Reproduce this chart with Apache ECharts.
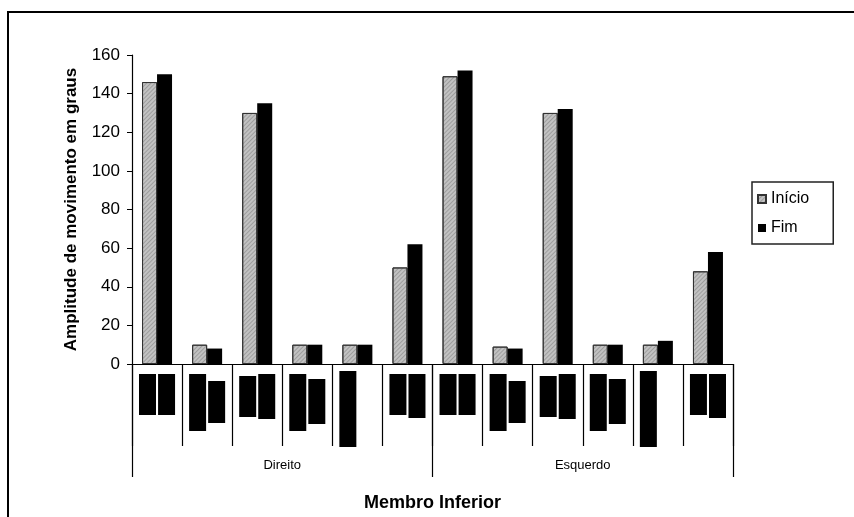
<!DOCTYPE html>
<html>
<head>
<meta charset="utf-8">
<script src="https://cdn.jsdelivr.net/npm/echarts@6/dist/echarts.min.js"></script>
<style>
  html, body { margin: 0; padding: 0; background: #fff; }
  #chart { width: 854px; height: 517px; }
</style>
</head>
<body>
<div id="chart"></div>
<script>
// 12 movimentos: 6 do lado direito, 6 do esquerdo
const categories = ["m1", "m2", "m3", "m4", "m5", "m6", "m7", "m8", "m9", "m10", "m11", "m12"];
const groups = ["Direito", "Esquerdo"];
const inicio = [146, 10, 130, 10, 10, 50, 149, 9, 130, 10, 10, 48];
const fim = [150, 8, 135, 10, 10, 62, 152, 8, 132, 10, 12, 58];
const yTicks = [0, 20, 40, 60, 80, 100, 120, 140, 160];

// rotulos das categorias (ilegiveis, aparecem como blocos pretos): inicio e fim de cada bloco
const rotuloIniA = [9, 9, 11, 9, 6, 9, 9, 9, 11, 9, 6, 9];
const rotuloFimA = [50, 66, 52, 66, 82, 50, 50, 66, 52, 66, 82, 50];
const rotuloIniB = [9, 16, 9, 14, 0, 9, 9, 16, 9, 14, 0, 9];
const rotuloFimB = [50, 58, 54, 59, 0, 53, 50, 58, 54, 59, 0, 53];

const font = "Liberation Sans";
const hatch = {
  symbol: "rect",
  symbolSize: 1,
  dashArrayX: [1, 0],
  dashArrayY: [1, 2],
  rotation: -Math.PI / 4,
  color: "rgba(90,90,90,0.35)",
};

const chart = echarts.init(document.getElementById("chart"));
chart.setOption({
  animation: false,
  textStyle: { fontFamily: font, color: "#000" },
  graphic: [
    {
      type: "rect",
      shape: { x: 8, y: 12, width: 870, height: 530 },
      style: { fill: "none", stroke: "#000", lineWidth: 2 },
      z: 0,
    },
  ],
  legend: {
    orient: "vertical",
    left: 752,
    top: 182,
    data: ["Início", "Fim"],
    icon: "rect",
    itemWidth: 8,
    itemHeight: 8,
    itemGap: 13,
    padding: [9, 24, 8, 5],
    borderColor: "#222",
    borderWidth: 1.5,
    borderRadius: 0,
    textStyle: { fontFamily: font, fontSize: 16, color: "#000" },
  },
  grid: [
    { left: 132, top: 55, width: 601, height: 310 },
    { left: 132, top: 365, width: 601, height: 82 },
  ],
  xAxis: [
    {
      type: "category",
      gridIndex: 0,
      data: categories,
      name: "Membro Inferior",
      nameLocation: "middle",
      nameGap: 130,
      nameTextStyle: { fontFamily: font, fontSize: 18, fontWeight: "bold", color: "#000" },
      axisLine: { show: true, lineStyle: { color: "#000", width: 1.2 } },
      axisTick: { show: true, interval: 0, length: 82, lineStyle: { color: "#000", width: 1.2 } },
      axisLabel: { show: false },
    },
    {
      type: "category",
      gridIndex: 0,
      position: "bottom",
      data: groups,
      axisLine: { show: false },
      axisTick: { show: true, interval: 0, length: 113, lineStyle: { color: "#000", width: 1.2 } },
      axisLabel: { margin: 95, fontFamily: font, fontSize: 13, color: "#000" },
    },
    {
      type: "category",
      gridIndex: 1,
      data: categories,
      show: false,
    },
  ],
  yAxis: [
    {
      type: "value",
      gridIndex: 0,
      min: 0,
      max: 160,
      interval: 20,
      name: "Amplitude de movimento em graus",
      nameLocation: "middle",
      nameGap: 52,
      nameTextStyle: { fontFamily: font, fontSize: 17, fontWeight: "bold", color: "#000" },
      axisLine: { show: true, lineStyle: { color: "#000", width: 1.2 } },
      axisTick: { show: true, length: 5, lineStyle: { color: "#000" } },
      splitLine: { show: false },
      axisLabel: {
        margin: 12,
        fontFamily: font,
        fontSize: 17,
        color: "#000",
        formatter: (v) => (yTicks.includes(v) ? String(v) : ""),
      },
    },
    {
      type: "value",
      gridIndex: 1,
      min: 0,
      max: 82,
      inverse: true,
      show: false,
    },
  ],
  series: [
    {
      name: "Início",
      type: "bar",
      xAxisIndex: 0,
      yAxisIndex: 0,
      data: inicio,
      barWidth: 15,
      barGap: "0%",
      itemStyle: { color: "#c2c2c2", borderColor: "#333", borderWidth: 1, decal: hatch },
    },
    {
      name: "Fim",
      type: "bar",
      xAxisIndex: 0,
      yAxisIndex: 0,
      data: fim,
      barWidth: 15,
      barGap: "0%",
      itemStyle: { color: "#000" },
    },
    {
      type: "bar",
      xAxisIndex: 2,
      yAxisIndex: 1,
      stack: "a",
      data: rotuloIniA,
      barWidth: 17,
      barGap: "12%",
      silent: true,
      itemStyle: { color: "transparent" },
    },
    {
      type: "bar",
      xAxisIndex: 2,
      yAxisIndex: 1,
      stack: "a",
      data: rotuloFimA.map((v, i) => v - rotuloIniA[i]),
      barWidth: 17,
      barGap: "12%",
      silent: true,
      itemStyle: { color: "#000" },
    },
    {
      type: "bar",
      xAxisIndex: 2,
      yAxisIndex: 1,
      stack: "b",
      data: rotuloIniB,
      barWidth: 17,
      barGap: "12%",
      silent: true,
      itemStyle: { color: "transparent" },
    },
    {
      type: "bar",
      xAxisIndex: 2,
      yAxisIndex: 1,
      stack: "b",
      data: rotuloFimB.map((v, i) => v - rotuloIniB[i]),
      barWidth: 17,
      barGap: "12%",
      silent: true,
      itemStyle: { color: "#000" },
    },
  ],
});
</script>
</body>
</html>
